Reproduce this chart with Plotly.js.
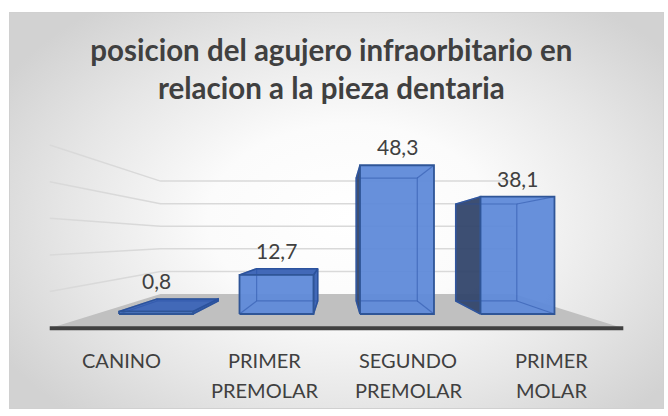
<!DOCTYPE html>
<html>
<head>
<meta charset="utf-8">
<script src="https://cdn.plot.ly/plotly-3.0.1.min.js"></script>
<style>
html,body{margin:0;padding:0;background:#ffffff;}
#wrap{position:relative;width:668px;height:416px;overflow:hidden;}
#bg{position:absolute;left:9px;top:12px;width:653px;height:395px;border:1px solid #d0d0d0;
  background:radial-gradient(ellipse 62% 68% at 52% 52%, #ffffff 0%, #fbfbfb 35%, #e6e6e6 70%, #d2d2d2 100%);}
#chart{position:absolute;left:0;top:0;width:668px;height:416px;}
</style>
</head>
<body>
<div id="wrap"><div id="bg"></div><div id="chart"></div></div>
<script>
// ---------- data ----------
const categories = ['CANINO', 'PRIMER PREMOLAR', 'SEGUNDO PREMOLAR', 'PRIMER MOLAR'];
const values = [0.8, 12.7, 48.3, 38.1];
const valueLabels = ['0,8', '12,7', '48,3', '38,1'];
const gridValues = [10, 20, 30, 40, 50];
const titleText = 'posicion del agujero infraorbitario en<br>relacion a la pieza dentaria';

// ---------- perspective style ----------
const VP = {x: 1.51, y: 24.35};
const DEPTH = {barNear: 1, barFar: 0.826, floorFront: 1.19, floorBack: 0.733};
const HALF_W = 0.307;
const FLOOR_X = [-0.5, categories.length - 0.5];
const FONT = 'Lato, "Open Sans", sans-serif';

function P(x, y, s) { return [VP.x + (x - VP.x) * s, VP.y + (y - VP.y) * s]; }

const traces = [];
function poly(pts, fill, line, width, opacity) {
  const xs = pts.map(p => p[0]), ys = pts.map(p => p[1]);
  xs.push(pts[0][0]); ys.push(pts[0][1]);
  traces.push({type: 'scatter', mode: 'lines', x: xs, y: ys,
    fill: fill ? 'toself' : 'none', fillcolor: fill || undefined,
    line: {color: line || 'rgba(0,0,0,0)', width: width || 0},
    opacity: opacity == null ? 1 : opacity, hoverinfo: 'skip', showlegend: false});
}
function path(pts, color, width) {
  traces.push({type: 'scatter', mode: 'lines', x: pts.map(p => p[0]), y: pts.map(p => p[1]),
    line: {color: color, width: width}, hoverinfo: 'skip', showlegend: false});
}

// floor
const fFL = P(FLOOR_X[0], 0, DEPTH.floorFront), fFR = P(FLOOR_X[1], 0, DEPTH.floorFront);
const fBR = P(FLOOR_X[1], 0, DEPTH.floorBack), fBL = P(FLOOR_X[0], 0, DEPTH.floorBack);
poly([fFL, fFR, fBR, fBL], '#c0c0c0', null, 0);

// gridlines (side wall + back wall)
gridValues.forEach(g => {
  path([P(FLOOR_X[0], g, DEPTH.floorFront), P(FLOOR_X[0], g, DEPTH.floorBack), P(FLOOR_X[1], g, DEPTH.floorBack)],
       '#d9d9d9', 1.5);
});
// floor front edge
path([fFL, fFR], '#404040', 4);

// bars
const FACE = '#5f8ad9', TOP = '#4269b8', SIDE_DARK = '#33466c', EDGE = '#2f5597', INNER = 'rgba(40,80,165,0.5)';
values.forEach((v, i) => {
  const xl = i - HALF_W, xr = i + HALF_W;
  const n = {lb: P(xl, 0, DEPTH.barNear), rb: P(xr, 0, DEPTH.barNear), rt: P(xr, v, DEPTH.barNear), lt: P(xl, v, DEPTH.barNear)};
  const f = {lb: P(xl, 0, DEPTH.barFar), rb: P(xr, 0, DEPTH.barFar), rt: P(xr, v, DEPTH.barFar), lt: P(xl, v, DEPTH.barFar)};
  const inner = () => {
    path([f.lb, f.rb, f.rt, f.lt, f.lb], INNER, 1.2);
    path([n.lb, f.lb], INNER, 1.2); path([n.rb, f.rb], INNER, 1.2);
    path([n.rt, f.rt], INNER, 1.2); path([n.lt, f.lt], INNER, 1.2);
  };
  if (xl > VP.x) poly([n.lb, n.lt, f.lt, f.lb], SIDE_DARK, EDGE, 1.5, 0.95);
  if (xr < VP.x) poly([n.rb, n.rt, f.rt, f.rb], TOP, EDGE, 1.5, 1);
  if (v < VP.y) poly([n.lt, n.rt, f.rt, f.lt], TOP, EDGE, 1.5, 1);
  poly([n.lb, n.rb, n.rt, n.lt], FACE, null, 0, 0.95);
  inner();
  poly([n.lb, n.rb, n.rt, n.lt], null, EDGE, 1.8, 1);
});

// annotations
const annotations = [];
values.forEach((v, i) => {
  const top = Math.max(P(i, v, DEPTH.barNear)[1], P(i, v, DEPTH.barFar)[1]);
  annotations.push({x: i, y: top, xref: 'x', yref: 'y', text: valueLabels[i], showarrow: false,
    yanchor: 'bottom', xanchor: 'center', yshift: 4, font: {family: FONT, size: 21, color: '#404040'}});
});
categories.forEach((c, i) => {
  const base = P(i, 0, DEPTH.floorFront);
  c.split(' ').forEach((line, k) => {
    annotations.push({x: base[0], y: base[1], xref: 'x', yref: 'y', text: line, showarrow: false,
      yanchor: 'middle', xanchor: 'center', yshift: -(32 + 30 * k), font: {family: FONT, size: 20, color: '#404040'}});
  });
});

const layout = {
  width: 668, height: 416,
  margin: {l: 0, r: 0, t: 0, b: 0, pad: 0},
  paper_bgcolor: 'rgba(0,0,0,0)', plot_bgcolor: 'rgba(0,0,0,0)',
  showlegend: false,
  title: {text: '<b>' + titleText + '</b>', x: 0.496, xanchor: 'center', y: 1 - 61 / 416, yanchor: 'top',
    yref: 'container', font: {family: FONT, size: 29.5, color: '#404040'}},
  xaxis: {range: [-1.2946, 4.2490], visible: false, fixedrange: true},
  yaxis: {range: [-33.117, 101.948], visible: false, fixedrange: true},
  annotations: annotations
};
Plotly.newPlot('chart', traces, layout, {staticPlot: true, displayModeBar: false});
</script>
</body>
</html>
